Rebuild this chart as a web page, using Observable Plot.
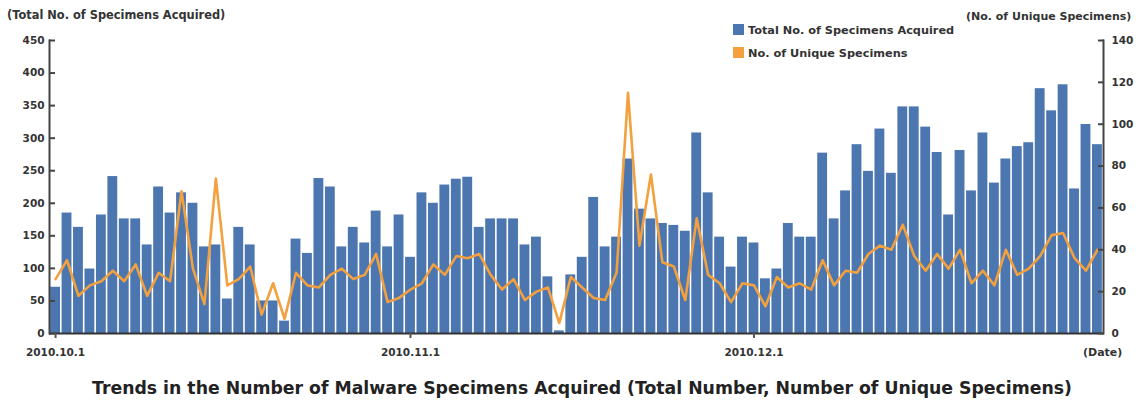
<!DOCTYPE html>
<html>
<head>
<meta charset="utf-8">
<script src="https://cdn.jsdelivr.net/npm/d3@7"></script>
<script src="https://cdn.jsdelivr.net/npm/@observablehq/plot@0.6"></script>
<style>
  body { margin: 0; background: #fff; overflow: hidden; }
  #wrap { position: relative; width: 1136px; height: 401px; font-family: "DejaVu Sans", "Liberation Sans", Arial, sans-serif; font-weight: bold; color: #333; }
  #wrap svg { position: absolute; left: 0; top: 0; }
  .lbl { position: absolute; white-space: nowrap; font-size: 11px; line-height: 13px; }
  .sw { display: inline-block; width: 11px; height: 11px; vertical-align: -1px; margin-right: 4px; }
  #title { position: absolute; left: 28px; width: 1108px; top: 377px; text-align: center; font-size: 17.3px; line-height: 22px; color: #222; white-space: nowrap; }
</style>
</head>
<body>
<div id="wrap">
  <div class="lbl" style="left:7px; top:9px; font-size:11.4px;">(Total No. of Specimens Acquired)</div>
  <div class="lbl" style="left:966px; top:10px;">(No. of Unique Specimens)</div>
  <div class="lbl" style="left:733px; top:24px; font-size:11.3px;"><span class="sw" style="background:#4b76b0"></span>Total No. of Specimens Acquired</div>
  <div class="lbl" style="left:733px; top:47px; font-size:11.3px;"><span class="sw" style="background:#f3a03f"></span>No. of Unique Specimens</div>
  <div class="lbl" style="left:1083px; top:346px;">(Date)</div>
  <div id="title">Trends in the Number of Malware Specimens Acquired (Total Number, Number of Unique Specimens)</div>
</div>
<script>
// Daily totals, 2010.10.1 – 2010.12.31
const totalOct = [71,185,163,99,182,241,176,176,136,225,185,216,200,133,136,53,163,136,50,50,19,145,123,238,225,133,163,139,188,133,182];
const totalNov = [117,216,200,228,237,240,163,176,176,176,136,148,87,4,90,117,209,133,148,268,191,176,169,166,157,308,216,148,102,148];
const totalDec = [139,84,99,169,148,148,277,176,219,290,249,314,246,348,348,317,278,182,281,219,308,231,268,287,293,376,342,382,222,321,290];
// Daily unique specimens
const uniqueOct = [26,35,18,23,25,30,25,33,18,29,25,68,31,14,74,23,26,32,9,24,7,29,23,22,28,31,26,28,38,15,17];
const uniqueNov = [21,24,33,28,37,36,38,28,21,26,16,20,22,5,27,22,17,16,29,115,42,76,34,32,16,55,28,24,15,24];
const uniqueDec = [23,13,27,22,24,21,35,23,30,29,38,42,40,52,37,30,38,31,40,24,30,23,40,28,31,37,47,48,36,30,40];
const dateTicks = ["2010.10.1", "2010.11.1", "2010.12.1"];
const leftTicks = [0,50,100,150,200,250,300,350,400,450];
const rightTicks = [0,20,40,60,80,100,120,140];
const leftMax = 450, rightMax = 140;

const days = d3.utcDay.range(new Date(Date.UTC(2010, 9, 1)), new Date(Date.UTC(2011, 0, 1)));
const fmt = d => `${d.getUTCFullYear()}.${d.getUTCMonth() + 1}.${d.getUTCDate()}`;
const dates = days.map(fmt);
const totals = [...totalOct, ...totalNov, ...totalDec];
const uniques = [...uniqueOct, ...uniqueNov, ...uniqueDec];
const rows = dates.map((date, i) => ({date, total: totals[i], unique: uniques[i]}));
const toLeft = v => v * leftMax / rightMax;

const axisFont = {fontSize: 10.5, fontWeight: "bold", fill: "#333", fontFamily: "DejaVu Sans, Liberation Sans, Arial, sans-serif"};

const chart = Plot.plot({
  width: 1136,
  height: 401,
  marginLeft: 49,
  marginRight: 33,
  marginTop: 40,
  marginBottom: 68,
  style: {background: "transparent", overflow: "visible"},
  x: {type: "band", domain: dates, paddingInner: 0.14, paddingOuter: 0.1, axis: null},
  y: {domain: [0, leftMax], axis: null},
  marks: [
    Plot.barY(rows, {x: "date", y: "total", fill: "#4b76b0"}),
    Plot.lineY(rows, {x: "date", y: d => toLeft(d.unique), stroke: "#f3a03f", strokeWidth: 2.6, strokeLinejoin: "round"}),
    Plot.frame({anchor: "left", stroke: "#444", strokeWidth: 2}),
    Plot.frame({anchor: "right", stroke: "#444", strokeWidth: 2}),
    Plot.ruleY([0], {stroke: "#333", strokeWidth: 2}),
    Plot.axisY(leftTicks, {anchor: "left", label: null, tickSize: -6, tickPadding: 11, stroke: "#444", strokeWidth: 2, ...axisFont}),
    Plot.axisY(rightTicks.map(toLeft), {anchor: "right", label: null, tickSize: -6, tickPadding: 14, stroke: "#444", strokeWidth: 2, tickFormat: d => Math.round(d * rightMax / leftMax), ...axisFont}),
    Plot.axisX(dateTicks, {anchor: "bottom", label: null, tickSize: 5, tickPadding: 10, stroke: "#555", strokeWidth: 2, ...axisFont})
  ]
});
document.getElementById("wrap").prepend(chart);
</script>
</body>
</html>
